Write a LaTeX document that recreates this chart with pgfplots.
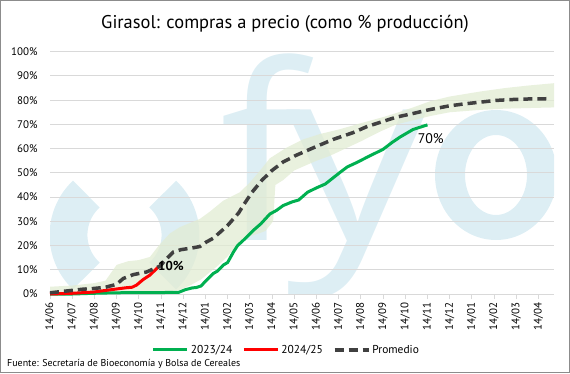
\documentclass[border=0pt]{standalone}
\usepackage{fontspec}
\setmainfont{PT Sans}
\newfontfamily\wmfont{Open Sans}[BoldFont=*]
\usepackage{pgfplots}
\pgfplotsset{compat=1.18}
\definecolor{cgreen}{HTML}{00B050}
\definecolor{cred}{HTML}{FF0000}
\definecolor{cdash}{HTML}{404040}
\definecolor{cband}{HTML}{E2ECD3}
\definecolor{cgrid}{HTML}{D9D9D9}
\definecolor{cwm}{HTML}{DDEEF4}
\definecolor{cframe}{HTML}{8C8C8C}
\begin{document}
\begin{tikzpicture}[x=1bp,y=1bp]
\useasboundingbox (0,0) rectangle (570,373);
% watermark
\begin{scope}
\clip (50,79) rectangle (554,321.7);
\draw[cwm, line width=38] (124.5,138) ++(133:56) arc[start angle=133, end angle=227, radius=56];
\draw[cwm, line width=38] (124.5,138) ++(-47:56) arc[start angle=-47, end angle=47, radius=56];
\node[anchor=base, inner sep=0, text=cwm, font={\wmfont\bfseries\fontsize{245}{245}\selectfont}] at (262,133) {f};
\node[anchor=base, inner sep=0, text=cwm, font={\wmfont\bfseries\fontsize{245}{245}\selectfont}] at (357,133) {\scalebox{1.15}[1]{y}};
\fill[cwm, even odd rule] (496,198) ellipse [x radius=61, y radius=65] (496,198) ellipse [x radius=31, y radius=40];
\end{scope}
\begin{axis}[
  at={(50bp,79bp)}, anchor=south west,
  scale only axis, width=504bp, height=242.3bp,
  xmin=0, xmax=22.7, ymin=0, ymax=100,
  ytick={0,10,...,100},
  yticklabel={\pgfmathprintnumber{\tick}\%},
  xtick={0,...,22},
  xticklabels={14/06,14/07,14/08,14/09,14/10,14/11,14/12,14/01,14/02,14/03,14/04,14/05,14/06,14/07,14/08,14/09,14/10,14/11,14/12,14/01,14/02,14/03,14/04},
  xticklabel style={rotate=90, anchor=east, font=\fontsize{11}{12}\selectfont},
  yticklabel style={font=\fontsize{11}{12}\selectfont, xshift=-4bp},
  /pgf/number format/assume math mode=true,
  ymajorgrids, grid style={cgrid, line width=0.9bp},
  axis line style={draw=none},
  xtick pos=bottom, tick align=outside, major tick length=5bp,
  xtick style={cgrid, line width=0.9bp},
  ytick style={draw=none},
  legend style={at={(0.469,-0.231)}, anchor=center, draw=none, fill=none,
    font=\fontsize{11.5}{12}\selectfont, legend columns=3,
    /tikz/every even column/.append style={column sep=8bp}},
  legend image code/.code={\draw[#1] (0bp,0bp) -- (34bp,0bp);},
  clip=false,
]
% band
\addplot[fill=cband, draw=none, fill opacity=0.75, forget plot] coordinates {
(0,3) (1,3.5) (2,4.5) (2.5,5.5) (3.0,12) (3.5,13.5) (4.0,14) (4.5,15.3) (4.9,20) (5.4,25) (5.85,27.6) (6.75,31) (7.2,34) (7.8,38.5) (8.55,42) (9.0,46) (9.45,50.8) (9.9,56) (10.65,60.4) (11.4,63.8) (12.15,66) (13.05,68) (14,70.5) (15,73) (15.6,74.7) (16.35,77) (17.1,79.5) (18,81.5) (19.4,83.6) (20.5,85) (21.5,86) (22.7,87)
(22.7,77) (20.5,76.5) (19.4,76) (18.0,75) (17.1,73.4) (16.5,72) (15.6,70) (14.86,67) (14.0,63) (13.3,60) (12.6,57) (12.0,55) (11.5,53) (11.0,51) (10.5,47) (10.15,45) (10.05,30) (9.7,26) (9.4,25) (8.7,23) (8.4,20) (8.0,15.5) (7.6,12) (7.2,9) (6.8,6) (6.3,3.5) (5.8,1.5) (5,1) (4,0.5) (3,0) (0,0)
} -- cycle;
\addplot[cgreen, line width=3bp] coordinates {
(0,0) (1,0) (2,0.3) (3,0.5) (4,0.6) (5,0.6) (5.8,0.7) (6.1,1.8) (6.4,2.5) (6.6,2.7) (6.8,3.3) (7.05,5.7) (7.36,8.5) (7.55,9.5) (7.8,11.9) (8.0,13) (8.26,17.3) (8.45,20) (8.7,22.1) (9.15,26.2) (9.5,29) (9.9,33) (10.2,34.5) (10.5,36.5) (10.9,38) (11.2,38.8) (11.6,42) (12.0,43.8) (12.4,45.4) (13.05,50.1) (13.4,52.5) (13.8,54.2) (14.4,57) (15.0,59.7) (15.4,62.5) (15.77,64.8) (16.35,67.9) (17.0,69.8)
};
\addlegendentry{2023/24}
\addplot[cred, line width=3bp] coordinates {
(0,0) (1,0.3) (1.95,0.8) (2.85,1.9) (3.45,2.6) (3.7,2.8) (3.9,3.7) (4.2,6.0) (4.5,7.8) (4.86,11)
};
\addlegendentry{2024/25}
\addplot[cdash, line width=3.5bp, dash pattern=on 9bp off 5bp] coordinates {
(0,0.5) (0.5,1.0) (1,1.5) (1.5,2.0) (2,2.3) (2.5,2.8) (3,4.0) (3.3,6.4) (3.75,8.0) (4.35,9.1) (4.95,11.5) (5.3,15) (5.55,17.3) (5.9,18.3) (6.4,19.0) (6.75,19.6) (7.05,21.5) (7.35,23) (7.66,25.5) (8.0,28.3) (8.26,31) (8.5,33.5) (8.7,36.5) (9.1,42) (9.55,47) (10.0,51) (10.5,54.5) (11.1,57.3) (11.85,60.3) (12.75,63.8) (13.65,66.6) (14.25,69) (14.85,70.8) (15.6,73) (16.35,74.5) (17.1,76.1) (17.9,77.5) (18.6,78.4) (19.4,79.2) (20.1,79.9) (20.9,80.3) (21.6,80.5) (22.5,80.6)
};
\addlegendentry{Promedio}
\node[font=\fontsize{13}{14}\selectfont\bfseries, text=black] at (axis cs:5.45,11.5) {10\%};
\node[font=\fontsize{14}{15}\selectfont, text=black] at (axis cs:17.15,64.2) {70\%};
\end{axis}
\node[font=\fontsize{18.5}{20}\selectfont] at (285,349) {Girasol: compras a precio (como \% producción)};
\node[anchor=west, font=\fontsize{10}{11}\selectfont, inner sep=0] at (7,9) {Fuente: Secretaría de Bioeconomía y Bolsa de Cereales};
\draw[cframe, line width=1] (0.5,0.5) rectangle (569.5,372.5);
\end{tikzpicture}
\end{document}
